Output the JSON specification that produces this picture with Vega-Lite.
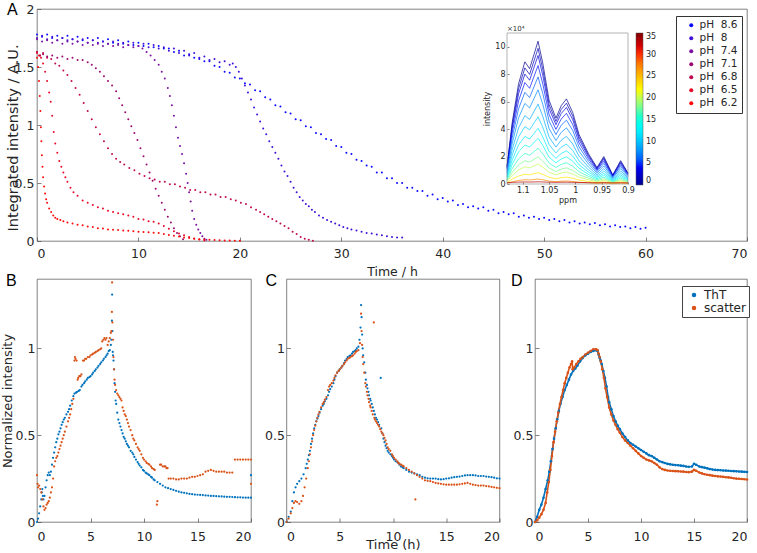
{
"$schema":"https://vega.github.io/schema/vega-lite/v6.json",
"background":"white",
"padding":{"left":0,"top":1,"right":2,"bottom":2},
"config":{
"font":"DejaVu Sans",
"view":{"stroke":"#4d4d4d","strokeWidth":0.7},
"axis":{"grid":false,"domain":false,"tickColor":"#4d4d4d","tickSize":-4,"tickWidth":0.7,"labelColor":"#262626","titleColor":"#262626","titleFontWeight":"normal","labelFont":"DejaVu Sans","titleFont":"DejaVu Sans","format":"~f"},
"legend":{"labelFont":"DejaVu Sans","labelColor":"#262626"},
"title":{"font":"Liberation Sans","fontSize":16,"fontWeight":"normal","anchor":"start","frame":"group","offset":0,"baseline":"alphabetic","color":"#000"}
},
"datasets":{
"a":[
{"p":1,"t":0,"v":1.78},{"p":1,"t":0.5,"v":1.76},{"p":1,"t":1,"v":1.78},{"p":1,"t":1.5,"v":1.75},{"p":1,"t":2,"v":1.77},{"p":1,"t":2.5,"v":1.75},{"p":1,"t":3,"v":1.77},{"p":1,"t":3.5,"v":1.74},{"p":1,"t":4,"v":1.76},{"p":1,"t":4.5,"v":1.73},{"p":1,"t":5,"v":1.75},{"p":1,"t":5.5,"v":1.73},{"p":1,"t":6,"v":1.75},{"p":1,"t":6.5,"v":1.72},{"p":1,"t":7,"v":1.74},{"p":1,"t":7.5,"v":1.71},{"p":1,"t":8,"v":1.73},{"p":1,"t":8.5,"v":1.7},{"p":1,"t":9,"v":1.72},{"p":1,"t":9.5,"v":1.69},{"p":1,"t":10,"v":1.71},{"p":1,"t":10.5,"v":1.68},{"p":1,"t":11,"v":1.7},{"p":1,"t":11.5,"v":1.67},{"p":1,"t":12,"v":1.68},{"p":1,"t":12.5,"v":1.66},{"p":1,"t":13,"v":1.66},{"p":1,"t":13.5,"v":1.63},{"p":1,"t":14,"v":1.64},{"p":1,"t":14.5,"v":1.6},{"p":1,"t":15,"v":1.61},{"p":1,"t":15.5,"v":1.58},{"p":1,"t":16,"v":1.57},{"p":1,"t":16.5,"v":1.55},{"p":1,"t":17,"v":1.55},{"p":1,"t":17.5,"v":1.51},{"p":1,"t":18,"v":1.5},{"p":1,"t":18.5,"v":1.46},{"p":1,"t":19,"v":1.45},{"p":1,"t":19.5,"v":1.41},{"p":1,"t":20,"v":1.4},{"p":1,"t":20.5,"v":1.36},{"p":1,"t":21,"v":1.35},{"p":1,"t":21.5,"v":1.3},{"p":1,"t":22,"v":1.29},{"p":1,"t":22.5,"v":1.24},{"p":1,"t":23,"v":1.22},{"p":1,"t":23.5,"v":1.17},{"p":1,"t":24,"v":1.16},{"p":1,"t":24.5,"v":1.11},{"p":1,"t":25,"v":1.1},{"p":1,"t":25.5,"v":1.05},{"p":1,"t":26,"v":1.04},{"p":1,"t":26.5,"v":0.99},{"p":1,"t":27,"v":0.98},{"p":1,"t":27.5,"v":0.93},{"p":1,"t":28,"v":0.92},{"p":1,"t":28.5,"v":0.88},{"p":1,"t":29,"v":0.87},{"p":1,"t":29.5,"v":0.82},{"p":1,"t":30,"v":0.81},{"p":1,"t":30.5,"v":0.76},{"p":1,"t":31,"v":0.75},{"p":1,"t":31.5,"v":0.7},{"p":1,"t":32,"v":0.69},{"p":1,"t":32.5,"v":0.65},{"p":1,"t":33,"v":0.64},{"p":1,"t":33.5,"v":0.59},{"p":1,"t":34,"v":0.59},{"p":1,"t":34.5,"v":0.54},{"p":1,"t":35,"v":0.54},{"p":1,"t":35.5,"v":0.5},{"p":1,"t":36,"v":0.5},{"p":1,"t":36.5,"v":0.46},{"p":1,"t":37,"v":0.46},{"p":1,"t":37.5,"v":0.43},{"p":1,"t":38,"v":0.43},{"p":1,"t":38.5,"v":0.39},{"p":1,"t":39,"v":0.4},{"p":1,"t":39.5,"v":0.36},{"p":1,"t":40,"v":0.37},{"p":1,"t":40.5,"v":0.34},{"p":1,"t":41,"v":0.35},{"p":1,"t":41.5,"v":0.31},{"p":1,"t":42,"v":0.32},{"p":1,"t":42.5,"v":0.29},{"p":1,"t":43,"v":0.3},{"p":1,"t":43.5,"v":0.28},{"p":1,"t":44,"v":0.29},{"p":1,"t":44.5,"v":0.26},{"p":1,"t":45,"v":0.27},{"p":1,"t":45.5,"v":0.24},{"p":1,"t":46,"v":0.25},{"p":1,"t":46.5,"v":0.23},{"p":1,"t":47,"v":0.24},{"p":1,"t":47.5,"v":0.21},{"p":1,"t":48,"v":0.22},{"p":1,"t":48.5,"v":0.2},{"p":1,"t":49,"v":0.21},{"p":1,"t":49.5,"v":0.19},{"p":1,"t":50,"v":0.2},{"p":1,"t":50.5,"v":0.18},{"p":1,"t":51,"v":0.19},{"p":1,"t":51.5,"v":0.17},{"p":1,"t":52,"v":0.18},{"p":1,"t":52.5,"v":0.16},{"p":1,"t":53,"v":0.17},{"p":1,"t":53.5,"v":0.15},{"p":1,"t":54,"v":0.16},{"p":1,"t":54.5,"v":0.145},{"p":1,"t":55,"v":0.155},{"p":1,"t":55.5,"v":0.135},{"p":1,"t":56,"v":0.145},{"p":1,"t":56.5,"v":0.125},{"p":1,"t":57,"v":0.135},{"p":1,"t":57.5,"v":0.12},{"p":1,"t":58,"v":0.125},{"p":1,"t":58.5,"v":0.11},{"p":1,"t":59,"v":0.12},{"p":1,"t":59.5,"v":0.105},{"p":1,"t":60,"v":0.115},
{"p":2,"t":0,"v":1.75},{"p":2,"t":0.5,"v":1.77},{"p":2,"t":1,"v":1.74},{"p":2,"t":1.5,"v":1.76},{"p":2,"t":2,"v":1.73},{"p":2,"t":2.5,"v":1.75},{"p":2,"t":3,"v":1.73},{"p":2,"t":3.5,"v":1.74},{"p":2,"t":4,"v":1.72},{"p":2,"t":4.5,"v":1.74},{"p":2,"t":5,"v":1.71},{"p":2,"t":5.5,"v":1.73},{"p":2,"t":6,"v":1.71},{"p":2,"t":6.5,"v":1.72},{"p":2,"t":7,"v":1.7},{"p":2,"t":7.5,"v":1.72},{"p":2,"t":8,"v":1.7},{"p":2,"t":8.5,"v":1.71},{"p":2,"t":9,"v":1.69},{"p":2,"t":9.5,"v":1.71},{"p":2,"t":10,"v":1.68},{"p":2,"t":10.5,"v":1.7},{"p":2,"t":11,"v":1.67},{"p":2,"t":11.5,"v":1.69},{"p":2,"t":12,"v":1.66},{"p":2,"t":12.5,"v":1.67},{"p":2,"t":13,"v":1.64},{"p":2,"t":13.5,"v":1.66},{"p":2,"t":14,"v":1.62},{"p":2,"t":14.5,"v":1.64},{"p":2,"t":15,"v":1.6},{"p":2,"t":15.5,"v":1.62},{"p":2,"t":16,"v":1.58},{"p":2,"t":16.5,"v":1.59},{"p":2,"t":17,"v":1.56},{"p":2,"t":17.5,"v":1.57},{"p":2,"t":18,"v":1.54},{"p":2,"t":18.5,"v":1.55},{"p":2,"t":19,"v":1.52},{"p":2,"t":19.3,"v":1.53},{"p":2,"t":19.6,"v":1.5},{"p":2,"t":19.9,"v":1.46},{"p":2,"t":20.2,"v":1.4},{"p":2,"t":20.5,"v":1.34},{"p":2,"t":20.8,"v":1.28},{"p":2,"t":21.1,"v":1.22},{"p":2,"t":21.4,"v":1.15},{"p":2,"t":21.7,"v":1.09},{"p":2,"t":22,"v":1.03},{"p":2,"t":22.3,"v":0.97},{"p":2,"t":22.6,"v":0.92},{"p":2,"t":22.9,"v":0.86},{"p":2,"t":23.2,"v":0.81},{"p":2,"t":23.5,"v":0.76},{"p":2,"t":23.8,"v":0.71},{"p":2,"t":24.1,"v":0.65},{"p":2,"t":24.4,"v":0.6},{"p":2,"t":24.7,"v":0.56},{"p":2,"t":25,"v":0.51},{"p":2,"t":25.3,"v":0.46},{"p":2,"t":25.6,"v":0.42},{"p":2,"t":25.9,"v":0.38},{"p":2,"t":26.2,"v":0.35},{"p":2,"t":26.5,"v":0.32},{"p":2,"t":26.8,"v":0.3},{"p":2,"t":27.1,"v":0.27},{"p":2,"t":27.4,"v":0.25},{"p":2,"t":27.8,"v":0.22},{"p":2,"t":28.2,"v":0.2},{"p":2,"t":28.6,"v":0.18},{"p":2,"t":29,"v":0.165},{"p":2,"t":29.4,"v":0.15},{"p":2,"t":29.8,"v":0.135},{"p":2,"t":30.2,"v":0.12},{"p":2,"t":30.6,"v":0.11},{"p":2,"t":31,"v":0.1},{"p":2,"t":31.5,"v":0.09},{"p":2,"t":32,"v":0.08},{"p":2,"t":32.5,"v":0.07},{"p":2,"t":33,"v":0.065},{"p":2,"t":33.5,"v":0.055},{"p":2,"t":34,"v":0.05},{"p":2,"t":34.5,"v":0.04},{"p":2,"t":35,"v":0.035},{"p":2,"t":35.5,"v":0.03},{"p":2,"t":36,"v":0.03},
{"p":3,"t":0,"v":1.74},{"p":3,"t":0.5,"v":1.72},{"p":3,"t":1,"v":1.73},{"p":3,"t":1.5,"v":1.71},{"p":3,"t":2,"v":1.73},{"p":3,"t":2.5,"v":1.7},{"p":3,"t":3,"v":1.72},{"p":3,"t":3.5,"v":1.7},{"p":3,"t":4,"v":1.72},{"p":3,"t":4.5,"v":1.69},{"p":3,"t":5,"v":1.71},{"p":3,"t":5.5,"v":1.69},{"p":3,"t":6,"v":1.7},{"p":3,"t":6.5,"v":1.68},{"p":3,"t":7,"v":1.7},{"p":3,"t":7.5,"v":1.68},{"p":3,"t":8,"v":1.69},{"p":3,"t":8.5,"v":1.67},{"p":3,"t":9,"v":1.69},{"p":3,"t":9.5,"v":1.67},{"p":3,"t":10,"v":1.68},{"p":3,"t":10.4,"v":1.66},{"p":3,"t":10.8,"v":1.63},{"p":3,"t":11.2,"v":1.6},{"p":3,"t":11.6,"v":1.56},{"p":3,"t":12,"v":1.52},{"p":3,"t":12.3,"v":1.46},{"p":3,"t":12.6,"v":1.4},{"p":3,"t":12.9,"v":1.32},{"p":3,"t":13.1,"v":1.25},{"p":3,"t":13.3,"v":1.17},{"p":3,"t":13.5,"v":1.08},{"p":3,"t":13.7,"v":0.98},{"p":3,"t":13.9,"v":0.89},{"p":3,"t":14.1,"v":0.82},{"p":3,"t":14.3,"v":0.75},{"p":3,"t":14.5,"v":0.67},{"p":3,"t":14.7,"v":0.58},{"p":3,"t":14.85,"v":0.5},{"p":3,"t":15,"v":0.42},{"p":3,"t":15.15,"v":0.34},{"p":3,"t":15.3,"v":0.26},{"p":3,"t":15.5,"v":0.19},{"p":3,"t":15.7,"v":0.14},{"p":3,"t":15.9,"v":0.1},{"p":3,"t":16.1,"v":0.07},{"p":3,"t":16.3,"v":0.04},{"p":3,"t":16.5,"v":0.02},{"p":3,"t":16.7,"v":0.01},
{"p":4,"t":0,"v":1.63},{"p":4,"t":0.3,"v":1.6},{"p":4,"t":0.6,"v":1.61},{"p":4,"t":1,"v":1.59},{"p":4,"t":1.5,"v":1.6},{"p":4,"t":2,"v":1.58},{"p":4,"t":2.5,"v":1.59},{"p":4,"t":3,"v":1.57},{"p":4,"t":3.5,"v":1.58},{"p":4,"t":4,"v":1.56},{"p":4,"t":4.5,"v":1.56},{"p":4,"t":5,"v":1.54},{"p":4,"t":5.4,"v":1.52},{"p":4,"t":5.8,"v":1.49},{"p":4,"t":6.2,"v":1.46},{"p":4,"t":6.6,"v":1.42},{"p":4,"t":7,"v":1.38},{"p":4,"t":7.4,"v":1.34},{"p":4,"t":7.8,"v":1.29},{"p":4,"t":8.1,"v":1.23},{"p":4,"t":8.4,"v":1.17},{"p":4,"t":8.7,"v":1.11},{"p":4,"t":9,"v":1.05},{"p":4,"t":9.3,"v":0.99},{"p":4,"t":9.6,"v":0.93},{"p":4,"t":9.9,"v":0.87},{"p":4,"t":10.2,"v":0.8},{"p":4,"t":10.5,"v":0.73},{"p":4,"t":10.8,"v":0.66},{"p":4,"t":11.1,"v":0.59},{"p":4,"t":11.4,"v":0.52},{"p":4,"t":11.7,"v":0.45},{"p":4,"t":12,"v":0.39},{"p":4,"t":12.3,"v":0.33},{"p":4,"t":12.6,"v":0.27},{"p":4,"t":12.9,"v":0.21},{"p":4,"t":13.2,"v":0.16},{"p":4,"t":13.5,"v":0.11},{"p":4,"t":13.8,"v":0.07},{"p":4,"t":14.1,"v":0.04},{"p":4,"t":14.4,"v":0.015},
{"p":5,"t":0,"v":1.63},{"p":5,"t":0.3,"v":1.6},{"p":5,"t":0.6,"v":1.62},{"p":5,"t":1,"v":1.58},{"p":5,"t":1.4,"v":1.57},{"p":5,"t":1.8,"v":1.53},{"p":5,"t":2.2,"v":1.51},{"p":5,"t":2.6,"v":1.47},{"p":5,"t":3,"v":1.43},{"p":5,"t":3.4,"v":1.38},{"p":5,"t":3.8,"v":1.32},{"p":5,"t":4.2,"v":1.26},{"p":5,"t":4.6,"v":1.19},{"p":5,"t":5,"v":1.12},{"p":5,"t":5.4,"v":1.05},{"p":5,"t":5.8,"v":0.98},{"p":5,"t":6.2,"v":0.92},{"p":5,"t":6.6,"v":0.86},{"p":5,"t":7,"v":0.8},{"p":5,"t":7.4,"v":0.75},{"p":5,"t":7.8,"v":0.71},{"p":5,"t":8.2,"v":0.68},{"p":5,"t":8.6,"v":0.66},{"p":5,"t":9.1,"v":0.63},{"p":5,"t":9.6,"v":0.61},{"p":5,"t":10.1,"v":0.58},{"p":5,"t":10.6,"v":0.56},{"p":5,"t":11.1,"v":0.54},{"p":5,"t":11.6,"v":0.53},{"p":5,"t":12.1,"v":0.51},{"p":5,"t":12.6,"v":0.51},{"p":5,"t":13.1,"v":0.49},{"p":5,"t":13.6,"v":0.49},{"p":5,"t":14.1,"v":0.47},{"p":5,"t":14.6,"v":0.46},{"p":5,"t":15.1,"v":0.44},{"p":5,"t":15.6,"v":0.44},{"p":5,"t":16.1,"v":0.42},{"p":5,"t":16.6,"v":0.42},{"p":5,"t":17.1,"v":0.4},{"p":5,"t":17.6,"v":0.4},{"p":5,"t":18.1,"v":0.38},{"p":5,"t":18.6,"v":0.38},{"p":5,"t":19.1,"v":0.36},{"p":5,"t":19.6,"v":0.35},{"p":5,"t":20.1,"v":0.33},{"p":5,"t":20.6,"v":0.32},{"p":5,"t":21.1,"v":0.29},{"p":5,"t":21.6,"v":0.27},{"p":5,"t":22,"v":0.25},{"p":5,"t":22.4,"v":0.23},{"p":5,"t":22.8,"v":0.21},{"p":5,"t":23.2,"v":0.19},{"p":5,"t":23.6,"v":0.17},{"p":5,"t":24,"v":0.15},{"p":5,"t":24.4,"v":0.13},{"p":5,"t":24.8,"v":0.11},{"p":5,"t":25.2,"v":0.08},{"p":5,"t":25.6,"v":0.06},{"p":5,"t":26,"v":0.035},{"p":5,"t":26.4,"v":0.02},{"p":5,"t":26.8,"v":0.01},{"p":5,"t":27.2,"v":0.003},
{"p":6,"t":0,"v":1.62},{"p":6,"t":0.2,"v":1.6},{"p":6,"t":0.4,"v":1.58},{"p":6,"t":0.6,"v":1.53},{"p":6,"t":0.8,"v":1.46},{"p":6,"t":1,"v":1.38},{"p":6,"t":1.2,"v":1.28},{"p":6,"t":1.35,"v":1.2},{"p":6,"t":1.5,"v":1.08},{"p":6,"t":1.65,"v":0.94},{"p":6,"t":1.8,"v":0.84},{"p":6,"t":2,"v":0.76},{"p":6,"t":2.2,"v":0.69},{"p":6,"t":2.4,"v":0.64},{"p":6,"t":2.6,"v":0.59},{"p":6,"t":2.8,"v":0.55},{"p":6,"t":3,"v":0.51},{"p":6,"t":3.3,"v":0.46},{"p":6,"t":3.6,"v":0.42},{"p":6,"t":4,"v":0.39},{"p":6,"t":4.5,"v":0.35},{"p":6,"t":5,"v":0.33},{"p":6,"t":5.5,"v":0.31},{"p":6,"t":6,"v":0.29},{"p":6,"t":6.5,"v":0.28},{"p":6,"t":7,"v":0.26},{"p":6,"t":7.5,"v":0.25},{"p":6,"t":8,"v":0.24},{"p":6,"t":8.5,"v":0.23},{"p":6,"t":9,"v":0.22},{"p":6,"t":9.5,"v":0.21},{"p":6,"t":10,"v":0.19},{"p":6,"t":10.5,"v":0.185},{"p":6,"t":11,"v":0.17},{"p":6,"t":11.5,"v":0.165},{"p":6,"t":12,"v":0.15},{"p":6,"t":12.5,"v":0.13},{"p":6,"t":13,"v":0.105},{"p":6,"t":13.5,"v":0.085},{"p":6,"t":14,"v":0.065},{"p":6,"t":14.5,"v":0.05},{"p":6,"t":15,"v":0.035},{"p":6,"t":15.5,"v":0.022},{"p":6,"t":16,"v":0.012},{"p":6,"t":16.5,"v":0.005},
{"p":7,"t":0,"v":1.58},{"p":7,"t":0.1,"v":1.5},{"p":7,"t":0.2,"v":1.38},{"p":7,"t":0.27,"v":1.25},{"p":7,"t":0.33,"v":1.12},{"p":7,"t":0.38,"v":0.98},{"p":7,"t":0.43,"v":0.86},{"p":7,"t":0.48,"v":0.74},{"p":7,"t":0.54,"v":0.64},{"p":7,"t":0.6,"v":0.55},{"p":7,"t":0.7,"v":0.47},{"p":7,"t":0.8,"v":0.41},{"p":7,"t":0.9,"v":0.36},{"p":7,"t":1,"v":0.33},{"p":7,"t":1.2,"v":0.28},{"p":7,"t":1.4,"v":0.25},{"p":7,"t":1.6,"v":0.22},{"p":7,"t":1.8,"v":0.2},{"p":7,"t":2,"v":0.19},{"p":7,"t":2.3,"v":0.18},{"p":7,"t":2.6,"v":0.17},{"p":7,"t":3,"v":0.16},{"p":7,"t":3.5,"v":0.15},{"p":7,"t":4,"v":0.14},{"p":7,"t":4.5,"v":0.135},{"p":7,"t":5,"v":0.125},{"p":7,"t":5.5,"v":0.12},{"p":7,"t":6,"v":0.11},{"p":7,"t":6.5,"v":0.108},{"p":7,"t":7,"v":0.1},{"p":7,"t":7.5,"v":0.098},{"p":7,"t":8,"v":0.094},{"p":7,"t":8.5,"v":0.09},{"p":7,"t":9,"v":0.088},{"p":7,"t":9.5,"v":0.083},{"p":7,"t":10,"v":0.08},{"p":7,"t":10.5,"v":0.077},{"p":7,"t":11,"v":0.075},{"p":7,"t":11.5,"v":0.072},{"p":7,"t":12,"v":0.068},{"p":7,"t":12.5,"v":0.06},{"p":7,"t":13,"v":0.052},{"p":7,"t":13.5,"v":0.045},{"p":7,"t":14,"v":0.038},{"p":7,"t":14.5,"v":0.03},{"p":7,"t":15,"v":0.025},{"p":7,"t":15.5,"v":0.02},{"p":7,"t":16,"v":0.015},{"p":7,"t":16.5,"v":0.012},{"p":7,"t":17,"v":0.01},{"p":7,"t":17.5,"v":0.008},{"p":7,"t":18,"v":0.006},{"p":7,"t":18.5,"v":0.005},{"p":7,"t":19,"v":0.004},{"p":7,"t":19.5,"v":0.003},{"p":7,"t":20,"v":0.002}
],
"ins":[
{"c":0,"x":1.13,"y":1.3},{"c":0,"x":1.12,"y":4.5},{"c":0,"x":1.108,"y":7.3},{"c":0,"x":1.096,"y":8.9},{"c":0,"x":1.087,"y":8.4},{"c":0,"x":1.071,"y":10.4},{"c":0,"x":1.062,"y":8.8},{"c":0,"x":1.05,"y":6.1},{"c":0,"x":1.037,"y":4.8},{"c":0,"x":1.027,"y":5.7},{"c":0,"x":1.017,"y":6.2},{"c":0,"x":1.005,"y":5.2},{"c":0,"x":0.993,"y":3.6},{"c":0,"x":0.975,"y":2.2},{"c":0,"x":0.959,"y":1.2},{"c":0,"x":0.946,"y":2},{"c":0,"x":0.929,"y":0.66},{"c":0,"x":0.914,"y":1.7},{"c":0,"x":0.9,"y":0.8},
{"c":1.5,"x":1.13,"y":1.24},{"c":1.5,"x":1.12,"y":4.28},{"c":1.5,"x":1.108,"y":6.94},{"c":1.5,"x":1.096,"y":8.46},{"c":1.5,"x":1.087,"y":7.98},{"c":1.5,"x":1.071,"y":9.88},{"c":1.5,"x":1.062,"y":8.36},{"c":1.5,"x":1.05,"y":5.8},{"c":1.5,"x":1.037,"y":4.56},{"c":1.5,"x":1.027,"y":5.42},{"c":1.5,"x":1.017,"y":5.89},{"c":1.5,"x":1.005,"y":4.94},{"c":1.5,"x":0.993,"y":3.42},{"c":1.5,"x":0.975,"y":2.09},{"c":1.5,"x":0.959,"y":1.14},{"c":1.5,"x":0.946,"y":1.9},{"c":1.5,"x":0.929,"y":0.63},{"c":1.5,"x":0.914,"y":1.62},{"c":1.5,"x":0.9,"y":0.76},
{"c":3,"x":1.13,"y":1.17},{"c":3,"x":1.12,"y":4.05},{"c":3,"x":1.108,"y":6.57},{"c":3,"x":1.096,"y":8.01},{"c":3,"x":1.087,"y":7.56},{"c":3,"x":1.071,"y":9.36},{"c":3,"x":1.062,"y":7.92},{"c":3,"x":1.05,"y":5.49},{"c":3,"x":1.037,"y":4.32},{"c":3,"x":1.027,"y":5.13},{"c":3,"x":1.017,"y":5.58},{"c":3,"x":1.005,"y":4.68},{"c":3,"x":0.993,"y":3.24},{"c":3,"x":0.975,"y":1.98},{"c":3,"x":0.959,"y":1.08},{"c":3,"x":0.946,"y":1.8},{"c":3,"x":0.929,"y":0.59},{"c":3,"x":0.914,"y":1.53},{"c":3,"x":0.9,"y":0.72},
{"c":4.5,"x":1.13,"y":1.08},{"c":4.5,"x":1.12,"y":3.74},{"c":4.5,"x":1.108,"y":6.06},{"c":4.5,"x":1.096,"y":7.39},{"c":4.5,"x":1.087,"y":6.97},{"c":4.5,"x":1.071,"y":8.63},{"c":4.5,"x":1.062,"y":7.3},{"c":4.5,"x":1.05,"y":5.06},{"c":4.5,"x":1.037,"y":3.98},{"c":4.5,"x":1.027,"y":4.73},{"c":4.5,"x":1.017,"y":5.15},{"c":4.5,"x":1.005,"y":4.32},{"c":4.5,"x":0.993,"y":2.99},{"c":4.5,"x":0.975,"y":1.83},{"c":4.5,"x":0.959,"y":1},{"c":4.5,"x":0.946,"y":1.66},{"c":4.5,"x":0.929,"y":0.55},{"c":4.5,"x":0.914,"y":1.41},{"c":4.5,"x":0.9,"y":0.66},
{"c":6,"x":1.13,"y":0.98},{"c":6,"x":1.12,"y":3.38},{"c":6,"x":1.108,"y":5.48},{"c":6,"x":1.096,"y":6.68},{"c":6,"x":1.087,"y":6.3},{"c":6,"x":1.071,"y":7.8},{"c":6,"x":1.062,"y":6.6},{"c":6,"x":1.05,"y":4.58},{"c":6,"x":1.037,"y":3.6},{"c":6,"x":1.027,"y":4.28},{"c":6,"x":1.017,"y":4.65},{"c":6,"x":1.005,"y":3.9},{"c":6,"x":0.993,"y":2.7},{"c":6,"x":0.975,"y":1.65},{"c":6,"x":0.959,"y":0.9},{"c":6,"x":0.946,"y":1.5},{"c":6,"x":0.929,"y":0.5},{"c":6,"x":0.914,"y":1.28},{"c":6,"x":0.9,"y":0.6},
{"c":7.5,"x":1.13,"y":0.86},{"c":7.5,"x":1.12,"y":2.97},{"c":7.5,"x":1.108,"y":4.82},{"c":7.5,"x":1.096,"y":5.87},{"c":7.5,"x":1.087,"y":5.54},{"c":7.5,"x":1.071,"y":6.86},{"c":7.5,"x":1.062,"y":5.81},{"c":7.5,"x":1.05,"y":4.03},{"c":7.5,"x":1.037,"y":3.17},{"c":7.5,"x":1.027,"y":3.76},{"c":7.5,"x":1.017,"y":4.09},{"c":7.5,"x":1.005,"y":3.43},{"c":7.5,"x":0.993,"y":2.38},{"c":7.5,"x":0.975,"y":1.45},{"c":7.5,"x":0.959,"y":0.79},{"c":7.5,"x":0.946,"y":1.32},{"c":7.5,"x":0.929,"y":0.44},{"c":7.5,"x":0.914,"y":1.12},{"c":7.5,"x":0.9,"y":0.53},
{"c":9,"x":1.13,"y":0.73},{"c":9,"x":1.12,"y":2.52},{"c":9,"x":1.108,"y":4.09},{"c":9,"x":1.096,"y":4.98},{"c":9,"x":1.087,"y":4.7},{"c":9,"x":1.071,"y":5.82},{"c":9,"x":1.062,"y":4.93},{"c":9,"x":1.05,"y":3.42},{"c":9,"x":1.037,"y":2.69},{"c":9,"x":1.027,"y":3.19},{"c":9,"x":1.017,"y":3.47},{"c":9,"x":1.005,"y":2.91},{"c":9,"x":0.993,"y":2.02},{"c":9,"x":0.975,"y":1.23},{"c":9,"x":0.959,"y":0.67},{"c":9,"x":0.946,"y":1.12},{"c":9,"x":0.929,"y":0.37},{"c":9,"x":0.914,"y":0.95},{"c":9,"x":0.9,"y":0.45},
{"c":10.5,"x":1.13,"y":0.61},{"c":10.5,"x":1.12,"y":2.12},{"c":10.5,"x":1.108,"y":3.43},{"c":10.5,"x":1.096,"y":4.18},{"c":10.5,"x":1.087,"y":3.95},{"c":10.5,"x":1.071,"y":4.89},{"c":10.5,"x":1.062,"y":4.14},{"c":10.5,"x":1.05,"y":2.87},{"c":10.5,"x":1.037,"y":2.26},{"c":10.5,"x":1.027,"y":2.68},{"c":10.5,"x":1.017,"y":2.91},{"c":10.5,"x":1.005,"y":2.44},{"c":10.5,"x":0.993,"y":1.69},{"c":10.5,"x":0.975,"y":1.03},{"c":10.5,"x":0.959,"y":0.56},{"c":10.5,"x":0.946,"y":0.94},{"c":10.5,"x":0.929,"y":0.31},{"c":10.5,"x":0.914,"y":0.8},{"c":10.5,"x":0.9,"y":0.38},
{"c":12,"x":1.13,"y":0.51},{"c":12,"x":1.12,"y":1.76},{"c":12,"x":1.108,"y":2.85},{"c":12,"x":1.096,"y":3.47},{"c":12,"x":1.087,"y":3.28},{"c":12,"x":1.071,"y":4.06},{"c":12,"x":1.062,"y":3.43},{"c":12,"x":1.05,"y":2.38},{"c":12,"x":1.037,"y":1.87},{"c":12,"x":1.027,"y":2.22},{"c":12,"x":1.017,"y":2.42},{"c":12,"x":1.005,"y":2.03},{"c":12,"x":0.993,"y":1.4},{"c":12,"x":0.975,"y":0.86},{"c":12,"x":0.959,"y":0.47},{"c":12,"x":0.946,"y":0.78},{"c":12,"x":0.929,"y":0.26},{"c":12,"x":0.914,"y":0.66},{"c":12,"x":0.9,"y":0.31},
{"c":14,"x":1.13,"y":0.42},{"c":14,"x":1.12,"y":1.44},{"c":14,"x":1.108,"y":2.34},{"c":14,"x":1.096,"y":2.85},{"c":14,"x":1.087,"y":2.69},{"c":14,"x":1.071,"y":3.33},{"c":14,"x":1.062,"y":2.82},{"c":14,"x":1.05,"y":1.95},{"c":14,"x":1.037,"y":1.54},{"c":14,"x":1.027,"y":1.82},{"c":14,"x":1.017,"y":1.98},{"c":14,"x":1.005,"y":1.66},{"c":14,"x":0.993,"y":1.15},{"c":14,"x":0.975,"y":0.7},{"c":14,"x":0.959,"y":0.38},{"c":14,"x":0.946,"y":0.64},{"c":14,"x":0.929,"y":0.21},{"c":14,"x":0.914,"y":0.54},{"c":14,"x":0.9,"y":0.26},
{"c":16,"x":1.13,"y":0.33},{"c":16,"x":1.12,"y":1.13},{"c":16,"x":1.108,"y":1.83},{"c":16,"x":1.096,"y":2.23},{"c":16,"x":1.087,"y":2.1},{"c":16,"x":1.071,"y":2.6},{"c":16,"x":1.062,"y":2.2},{"c":16,"x":1.05,"y":1.53},{"c":16,"x":1.037,"y":1.2},{"c":16,"x":1.027,"y":1.43},{"c":16,"x":1.017,"y":1.55},{"c":16,"x":1.005,"y":1.3},{"c":16,"x":0.993,"y":0.9},{"c":16,"x":0.975,"y":0.55},{"c":16,"x":0.959,"y":0.3},{"c":16,"x":0.946,"y":0.5},{"c":16,"x":0.929,"y":0.17},{"c":16,"x":0.914,"y":0.43},{"c":16,"x":0.9,"y":0.2},
{"c":18,"x":1.13,"y":0.25},{"c":18,"x":1.12,"y":0.86},{"c":18,"x":1.108,"y":1.39},{"c":18,"x":1.096,"y":1.69},{"c":18,"x":1.087,"y":1.6},{"c":18,"x":1.071,"y":1.98},{"c":18,"x":1.062,"y":1.67},{"c":18,"x":1.05,"y":1.16},{"c":18,"x":1.037,"y":0.91},{"c":18,"x":1.027,"y":1.08},{"c":18,"x":1.017,"y":1.18},{"c":18,"x":1.005,"y":0.99},{"c":18,"x":0.993,"y":0.68},{"c":18,"x":0.975,"y":0.42},{"c":18,"x":0.959,"y":0.23},{"c":18,"x":0.946,"y":0.38},{"c":18,"x":0.929,"y":0.13},{"c":18,"x":0.914,"y":0.32},{"c":18,"x":0.9,"y":0.15},
{"c":20,"x":1.13,"y":0.18},{"c":20,"x":1.12,"y":0.63},{"c":20,"x":1.108,"y":1.02},{"c":20,"x":1.096,"y":1.25},{"c":20,"x":1.087,"y":1.18},{"c":20,"x":1.071,"y":1.46},{"c":20,"x":1.062,"y":1.23},{"c":20,"x":1.05,"y":0.85},{"c":20,"x":1.037,"y":0.67},{"c":20,"x":1.027,"y":0.8},{"c":20,"x":1.017,"y":0.87},{"c":20,"x":1.005,"y":0.73},{"c":20,"x":0.993,"y":0.5},{"c":20,"x":0.975,"y":0.31},{"c":20,"x":0.959,"y":0.17},{"c":20,"x":0.946,"y":0.28},{"c":20,"x":0.929,"y":0.09},{"c":20,"x":0.914,"y":0.24},{"c":20,"x":0.9,"y":0.11},
{"c":23,"x":1.13,"y":0.1},{"c":23,"x":1.12,"y":0.36},{"c":23,"x":1.108,"y":0.58},{"c":23,"x":1.096,"y":0.71},{"c":23,"x":1.087,"y":0.67},{"c":23,"x":1.071,"y":0.83},{"c":23,"x":1.062,"y":0.7},{"c":23,"x":1.05,"y":0.49},{"c":23,"x":1.037,"y":0.38},{"c":23,"x":1.027,"y":0.46},{"c":23,"x":1.017,"y":0.5},{"c":23,"x":1.005,"y":0.42},{"c":23,"x":0.993,"y":0.29},{"c":23,"x":0.975,"y":0.18},{"c":23,"x":0.959,"y":0.1},{"c":23,"x":0.946,"y":0.16},{"c":23,"x":0.929,"y":0.05},{"c":23,"x":0.914,"y":0.14},{"c":23,"x":0.9,"y":0.06},
{"c":27,"x":1.13,"y":0.05},{"c":27,"x":1.12,"y":0.16},{"c":27,"x":1.108,"y":0.26},{"c":27,"x":1.096,"y":0.31},{"c":27,"x":1.087,"y":0.29},{"c":27,"x":1.071,"y":0.36},{"c":27,"x":1.062,"y":0.31},{"c":27,"x":1.05,"y":0.21},{"c":27,"x":1.037,"y":0.17},{"c":27,"x":1.027,"y":0.2},{"c":27,"x":1.017,"y":0.22},{"c":27,"x":1.005,"y":0.18},{"c":27,"x":0.993,"y":0.13},{"c":27,"x":0.975,"y":0.08},{"c":27,"x":0.959,"y":0.04},{"c":27,"x":0.946,"y":0.07},{"c":27,"x":0.929,"y":0.02},{"c":27,"x":0.914,"y":0.06},{"c":27,"x":0.9,"y":0.03},
{"c":33,"x":1.13,"y":0.1},{"c":33,"x":1.12,"y":0.12},{"c":33,"x":1.108,"y":0.14},{"c":33,"x":1.096,"y":0.15},{"c":33,"x":1.087,"y":0.14},{"c":33,"x":1.071,"y":0.16},{"c":33,"x":1.062,"y":0.15},{"c":33,"x":1.05,"y":0.13},{"c":33,"x":1.037,"y":0.12},{"c":33,"x":1.027,"y":0.13},{"c":33,"x":1.017,"y":0.13},{"c":33,"x":1.005,"y":0.12},{"c":33,"x":0.993,"y":0.11},{"c":33,"x":0.975,"y":0.1},{"c":33,"x":0.959,"y":0.09},{"c":33,"x":0.946,"y":0.1},{"c":33,"x":0.929,"y":0.09},{"c":33,"x":0.914,"y":0.09},{"c":33,"x":0.9,"y":0.09}
],
"b":[
{"s":0,"t":0,"v":0},{"s":0,"t":0.1,"v":0.02},{"s":0,"t":0.2,"v":0.05},{"s":0,"t":0.3,"v":0.09},{"s":0,"t":0.4,"v":0.13},{"s":0,"t":0.45,"v":0.17},{"s":0,"t":0.5,"v":0.19},{"s":0,"t":0.55,"v":0.15},{"s":0,"t":0.6,"v":0.13},{"s":0,"t":0.7,"v":0.15},{"s":0,"t":0.8,"v":0.2},{"s":0,"t":0.9,"v":0.24},{"s":0,"t":1,"v":0.27},{"s":0,"t":1.1,"v":0.285},{"s":0,"t":1.2,"v":0.27},{"s":0,"t":1.3,"v":0.29},{"s":0,"t":1.4,"v":0.33},{"s":0,"t":1.5,"v":0.37},{"s":0,"t":1.6,"v":0.4},{"s":0,"t":1.7,"v":0.43},{"s":0,"t":1.8,"v":0.46},{"s":0,"t":1.9,"v":0.48},{"s":0,"t":2,"v":0.505},{"s":0,"t":2.1,"v":0.52},{"s":0,"t":2.2,"v":0.54},{"s":0,"t":2.3,"v":0.56},{"s":0,"t":2.4,"v":0.575},{"s":0,"t":2.5,"v":0.59},{"s":0,"t":2.6,"v":0.6},{"s":0,"t":2.75,"v":0.62},{"s":0,"t":2.9,"v":0.635},{"s":0,"t":3,"v":0.65},{"s":0,"t":3.1,"v":0.67},{"s":0,"t":3.25,"v":0.7},{"s":0,"t":3.4,"v":0.725},{"s":0,"t":3.5,"v":0.74},{"s":0,"t":3.65,"v":0.745},{"s":0,"t":3.75,"v":0.75},{"s":0,"t":3.9,"v":0.755},{"s":0,"t":4,"v":0.76},{"s":0,"t":4.15,"v":0.78},{"s":0,"t":4.25,"v":0.79},{"s":0,"t":4.4,"v":0.8},{"s":0,"t":4.5,"v":0.81},{"s":0,"t":4.65,"v":0.82},{"s":0,"t":4.75,"v":0.83},{"s":0,"t":4.9,"v":0.835},{"s":0,"t":5,"v":0.84},{"s":0,"t":5.15,"v":0.85},{"s":0,"t":5.25,"v":0.86},{"s":0,"t":5.4,"v":0.87},{"s":0,"t":5.5,"v":0.88},{"s":0,"t":5.65,"v":0.89},{"s":0,"t":5.75,"v":0.9},{"s":0,"t":5.9,"v":0.91},{"s":0,"t":6,"v":0.92},{"s":0,"t":6.15,"v":0.93},{"s":0,"t":6.25,"v":0.94},{"s":0,"t":6.4,"v":0.95},{"s":0,"t":6.5,"v":0.96},{"s":0,"t":6.6,"v":0.97},{"s":0,"t":6.7,"v":0.985},{"s":0,"t":6.8,"v":0.99},{"s":0,"t":6.9,"v":1.02},{"s":0,"t":6.95,"v":1.05},{"s":0,"t":7,"v":1.16},{"s":0,"t":7.02,"v":1.31},{"s":0,"t":7.05,"v":1.1},{"s":0,"t":7.08,"v":0.98},{"s":0,"t":7.1,"v":0.96},{"s":0,"t":7.15,"v":0.93},{"s":0,"t":7.2,"v":0.88},{"s":0,"t":7.25,"v":0.8},{"s":0,"t":7.3,"v":0.75},{"s":0,"t":7.35,"v":0.7},{"s":0,"t":7.4,"v":0.68},{"s":0,"t":7.5,"v":0.63},{"s":0,"t":7.6,"v":0.59},{"s":0,"t":7.7,"v":0.57},{"s":0,"t":7.8,"v":0.55},{"s":0,"t":7.9,"v":0.53},{"s":0,"t":8,"v":0.51},{"s":0,"t":8.1,"v":0.49},{"s":0,"t":8.2,"v":0.48},{"s":0,"t":8.3,"v":0.465},{"s":0,"t":8.4,"v":0.45},{"s":0,"t":8.5,"v":0.44},{"s":0,"t":8.6,"v":0.43},{"s":0,"t":8.75,"v":0.41},{"s":0,"t":8.9,"v":0.4},{"s":0,"t":9,"v":0.39},{"s":0,"t":9.1,"v":0.375},{"s":0,"t":9.25,"v":0.36},{"s":0,"t":9.4,"v":0.345},{"s":0,"t":9.5,"v":0.335},{"s":0,"t":9.6,"v":0.325},{"s":0,"t":9.75,"v":0.315},{"s":0,"t":9.9,"v":0.3},{"s":0,"t":10,"v":0.295},{"s":0,"t":10.15,"v":0.285},{"s":0,"t":10.25,"v":0.28},{"s":0,"t":10.4,"v":0.275},{"s":0,"t":10.5,"v":0.27},{"s":0,"t":10.65,"v":0.26},{"s":0,"t":10.75,"v":0.255},{"s":0,"t":10.9,"v":0.245},{"s":0,"t":11,"v":0.24},{"s":0,"t":11.25,"v":0.23},{"s":0,"t":11.5,"v":0.22},{"s":0,"t":11.75,"v":0.21},{"s":0,"t":12,"v":0.2},{"s":0,"t":12.25,"v":0.195},{"s":0,"t":12.5,"v":0.19},{"s":0,"t":12.75,"v":0.185},{"s":0,"t":13,"v":0.18},{"s":0,"t":13.25,"v":0.175},{"s":0,"t":13.5,"v":0.17},{"s":0,"t":13.75,"v":0.168},{"s":0,"t":14,"v":0.165},{"s":0,"t":14.25,"v":0.162},{"s":0,"t":14.5,"v":0.16},{"s":0,"t":14.75,"v":0.158},{"s":0,"t":15,"v":0.157},{"s":0,"t":15.25,"v":0.156},{"s":0,"t":15.5,"v":0.155},{"s":0,"t":15.75,"v":0.153},{"s":0,"t":16,"v":0.152},{"s":0,"t":16.25,"v":0.15},{"s":0,"t":16.5,"v":0.15},{"s":0,"t":16.75,"v":0.149},{"s":0,"t":17,"v":0.148},{"s":0,"t":17.25,"v":0.147},{"s":0,"t":17.5,"v":0.146},{"s":0,"t":17.75,"v":0.145},{"s":0,"t":18,"v":0.145},{"s":0,"t":18.25,"v":0.144},{"s":0,"t":18.5,"v":0.143},{"s":0,"t":18.75,"v":0.142},{"s":0,"t":19,"v":0.142},{"s":0,"t":19.25,"v":0.141},{"s":0,"t":19.5,"v":0.14},{"s":0,"t":19.75,"v":0.14},{"s":0,"t":20,"v":0.14},{"s":0,"t":20,"v":0.27},
{"s":1,"t":0,"v":0.27},{"s":1,"t":0.05,"v":0.22},{"s":1,"t":0.1,"v":0.2},{"s":1,"t":0.2,"v":0.21},{"s":1,"t":0.3,"v":0.19},{"s":1,"t":0.4,"v":0.17},{"s":1,"t":0.5,"v":0.13},{"s":1,"t":0.6,"v":0.09},{"s":1,"t":0.7,"v":0.07},{"s":1,"t":0.8,"v":0.08},{"s":1,"t":0.9,"v":0.1},{"s":1,"t":1,"v":0.11},{"s":1,"t":1.1,"v":0.12},{"s":1,"t":1.2,"v":0.14},{"s":1,"t":1.3,"v":0.17},{"s":1,"t":1.4,"v":0.2},{"s":1,"t":1.5,"v":0.25},{"s":1,"t":1.6,"v":0.32},{"s":1,"t":1.7,"v":0.35},{"s":1,"t":1.8,"v":0.37},{"s":1,"t":1.9,"v":0.38},{"s":1,"t":2,"v":0.4},{"s":1,"t":2.1,"v":0.42},{"s":1,"t":2.2,"v":0.44},{"s":1,"t":2.3,"v":0.46},{"s":1,"t":2.4,"v":0.48},{"s":1,"t":2.5,"v":0.5},{"s":1,"t":2.6,"v":0.52},{"s":1,"t":2.75,"v":0.55},{"s":1,"t":2.9,"v":0.58},{"s":1,"t":3,"v":0.6},{"s":1,"t":3.1,"v":0.62},{"s":1,"t":3.2,"v":0.65},{"s":1,"t":3.3,"v":0.68},{"s":1,"t":3.4,"v":0.71},{"s":1,"t":3.5,"v":0.93},{"s":1,"t":3.55,"v":0.95},{"s":1,"t":3.6,"v":0.94},{"s":1,"t":3.7,"v":0.93},{"s":1,"t":3.8,"v":0.82},{"s":1,"t":3.85,"v":0.83},{"s":1,"t":3.95,"v":0.84},{"s":1,"t":4.05,"v":0.84},{"s":1,"t":4.15,"v":0.85},{"s":1,"t":4.3,"v":0.93},{"s":1,"t":4.4,"v":0.93},{"s":1,"t":4.5,"v":0.94},{"s":1,"t":4.6,"v":0.94},{"s":1,"t":4.75,"v":0.95},{"s":1,"t":4.9,"v":0.95},{"s":1,"t":5,"v":0.96},{"s":1,"t":5.15,"v":0.965},{"s":1,"t":5.25,"v":0.97},{"s":1,"t":5.4,"v":0.975},{"s":1,"t":5.5,"v":0.98},{"s":1,"t":5.65,"v":0.985},{"s":1,"t":5.75,"v":0.99},{"s":1,"t":5.9,"v":0.995},{"s":1,"t":6,"v":1},{"s":1,"t":6.1,"v":1.04},{"s":1,"t":6.2,"v":1.05},{"s":1,"t":6.3,"v":1.06},{"s":1,"t":6.4,"v":1.05},{"s":1,"t":6.5,"v":1.06},{"s":1,"t":6.6,"v":1.02},{"s":1,"t":6.7,"v":1.04},{"s":1,"t":6.8,"v":1.06},{"s":1,"t":6.9,"v":1.09},{"s":1,"t":6.95,"v":1.1},{"s":1,"t":7,"v":1.21},{"s":1,"t":7.02,"v":1.38},{"s":1,"t":7.05,"v":1.15},{"s":1,"t":7.1,"v":1.05},{"s":1,"t":7.15,"v":0.95},{"s":1,"t":7.2,"v":0.88},{"s":1,"t":7.25,"v":0.82},{"s":1,"t":7.3,"v":0.79},{"s":1,"t":7.4,"v":0.76},{"s":1,"t":7.5,"v":0.74},{"s":1,"t":7.6,"v":0.73},{"s":1,"t":7.7,"v":0.72},{"s":1,"t":7.8,"v":0.71},{"s":1,"t":7.9,"v":0.7},{"s":1,"t":8,"v":0.66},{"s":1,"t":8.1,"v":0.64},{"s":1,"t":8.2,"v":0.62},{"s":1,"t":8.3,"v":0.61},{"s":1,"t":8.4,"v":0.59},{"s":1,"t":8.5,"v":0.57},{"s":1,"t":8.6,"v":0.55},{"s":1,"t":8.75,"v":0.53},{"s":1,"t":8.9,"v":0.5},{"s":1,"t":9,"v":0.48},{"s":1,"t":9.1,"v":0.47},{"s":1,"t":9.25,"v":0.45},{"s":1,"t":9.4,"v":0.43},{"s":1,"t":9.5,"v":0.42},{"s":1,"t":9.6,"v":0.41},{"s":1,"t":9.75,"v":0.39},{"s":1,"t":9.9,"v":0.37},{"s":1,"t":10,"v":0.36},{"s":1,"t":10.15,"v":0.35},{"s":1,"t":10.25,"v":0.34},{"s":1,"t":10.4,"v":0.335},{"s":1,"t":10.5,"v":0.33},{"s":1,"t":10.65,"v":0.32},{"s":1,"t":10.75,"v":0.31},{"s":1,"t":10.9,"v":0.305},{"s":1,"t":11,"v":0.3},{"s":1,"t":11.2,"v":0.1},{"s":1,"t":11.25,"v":0.12},{"s":1,"t":11.5,"v":0.33},{"s":1,"t":11.6,"v":0.33},{"s":1,"t":11.75,"v":0.32},{"s":1,"t":11.9,"v":0.32},{"s":1,"t":12,"v":0.32},{"s":1,"t":12.1,"v":0.31},{"s":1,"t":12.2,"v":0.31},{"s":1,"t":12.3,"v":0.25},{"s":1,"t":12.5,"v":0.25},{"s":1,"t":12.75,"v":0.25},{"s":1,"t":13,"v":0.245},{"s":1,"t":13.25,"v":0.245},{"s":1,"t":13.5,"v":0.25},{"s":1,"t":13.75,"v":0.25},{"s":1,"t":14,"v":0.25},{"s":1,"t":14.25,"v":0.255},{"s":1,"t":14.5,"v":0.26},{"s":1,"t":14.75,"v":0.26},{"s":1,"t":15,"v":0.265},{"s":1,"t":15.25,"v":0.27},{"s":1,"t":15.5,"v":0.275},{"s":1,"t":15.75,"v":0.29},{"s":1,"t":16,"v":0.295},{"s":1,"t":16.25,"v":0.3},{"s":1,"t":16.5,"v":0.295},{"s":1,"t":16.75,"v":0.29},{"s":1,"t":17,"v":0.29},{"s":1,"t":17.25,"v":0.29},{"s":1,"t":17.5,"v":0.29},{"s":1,"t":17.75,"v":0.285},{"s":1,"t":18,"v":0.285},{"s":1,"t":18.25,"v":0.285},{"s":1,"t":18.5,"v":0.36},{"s":1,"t":18.75,"v":0.36},{"s":1,"t":19,"v":0.36},{"s":1,"t":19.25,"v":0.36},{"s":1,"t":19.5,"v":0.36},{"s":1,"t":19.75,"v":0.36},{"s":1,"t":20,"v":0.36},{"s":1,"t":20,"v":0.22}
],
"c":[
{"s":0,"t":0,"v":0},{"s":0,"t":0.2,"v":0.03},{"s":0,"t":0.4,"v":0.06},{"s":0,"t":0.55,"v":0.12},{"s":0,"t":0.7,"v":0.17},{"s":0,"t":0.85,"v":0.2},{"s":0,"t":1,"v":0.22},{"s":0,"t":1.2,"v":0.235},{"s":0,"t":1.4,"v":0.25},{"s":0,"t":1.6,"v":0.275},{"s":0,"t":1.8,"v":0.31},{"s":0,"t":1.9,"v":0.335},{"s":0,"t":2,"v":0.36},{"s":0,"t":2.1,"v":0.385},{"s":0,"t":2.2,"v":0.41},{"s":0,"t":2.3,"v":0.45},{"s":0,"t":2.4,"v":0.48},{"s":0,"t":2.5,"v":0.51},{"s":0,"t":2.6,"v":0.54},{"s":0,"t":2.7,"v":0.56},{"s":0,"t":2.8,"v":0.58},{"s":0,"t":2.9,"v":0.595},{"s":0,"t":3,"v":0.61},{"s":0,"t":3.1,"v":0.63},{"s":0,"t":3.25,"v":0.65},{"s":0,"t":3.4,"v":0.67},{"s":0,"t":3.5,"v":0.68},{"s":0,"t":3.6,"v":0.695},{"s":0,"t":3.75,"v":0.71},{"s":0,"t":3.9,"v":0.73},{"s":0,"t":4,"v":0.75},{"s":0,"t":4.1,"v":0.765},{"s":0,"t":4.25,"v":0.78},{"s":0,"t":4.4,"v":0.8},{"s":0,"t":4.5,"v":0.82},{"s":0,"t":4.6,"v":0.84},{"s":0,"t":4.75,"v":0.86},{"s":0,"t":4.9,"v":0.87},{"s":0,"t":5,"v":0.88},{"s":0,"t":5.15,"v":0.89},{"s":0,"t":5.25,"v":0.9},{"s":0,"t":5.4,"v":0.915},{"s":0,"t":5.5,"v":0.93},{"s":0,"t":5.65,"v":0.94},{"s":0,"t":5.75,"v":0.95},{"s":0,"t":5.9,"v":0.955},{"s":0,"t":6,"v":0.96},{"s":0,"t":6.15,"v":0.97},{"s":0,"t":6.25,"v":0.98},{"s":0,"t":6.4,"v":0.985},{"s":0,"t":6.5,"v":0.99},{"s":0,"t":6.6,"v":1},{"s":0,"t":6.75,"v":1.01},{"s":0,"t":6.85,"v":1.05},{"s":0,"t":6.95,"v":1.12},{"s":0,"t":7,"v":1.25},{"s":0,"t":7.05,"v":1.18},{"s":0,"t":7.1,"v":1.08},{"s":0,"t":7.15,"v":1},{"s":0,"t":7.2,"v":0.96},{"s":0,"t":7.3,"v":0.92},{"s":0,"t":7.4,"v":0.86},{"s":0,"t":7.45,"v":0.82},{"s":0,"t":7.55,"v":0.79},{"s":0,"t":7.6,"v":0.77},{"s":0,"t":7.7,"v":0.75},{"s":0,"t":7.75,"v":0.73},{"s":0,"t":7.85,"v":0.71},{"s":0,"t":7.9,"v":0.7},{"s":0,"t":8,"v":0.68},{"s":0,"t":8.1,"v":0.66},{"s":0,"t":8.2,"v":0.64},{"s":0,"t":8.3,"v":0.62},{"s":0,"t":8.4,"v":0.6},{"s":0,"t":8.5,"v":0.59},{"s":0,"t":8.6,"v":0.575},{"s":0,"t":8.7,"v":0.56},{"s":0,"t":8.85,"v":0.83},{"s":0,"t":8.9,"v":0.54},{"s":0,"t":9,"v":0.51},{"s":0,"t":9.1,"v":0.48},{"s":0,"t":9.2,"v":0.46},{"s":0,"t":9.3,"v":0.44},{"s":0,"t":9.4,"v":0.425},{"s":0,"t":9.5,"v":0.41},{"s":0,"t":9.6,"v":0.4},{"s":0,"t":9.75,"v":0.39},{"s":0,"t":9.9,"v":0.38},{"s":0,"t":10,"v":0.37},{"s":0,"t":10.1,"v":0.36},{"s":0,"t":10.25,"v":0.35},{"s":0,"t":10.4,"v":0.345},{"s":0,"t":10.5,"v":0.34},{"s":0,"t":10.6,"v":0.33},{"s":0,"t":10.75,"v":0.32},{"s":0,"t":10.9,"v":0.315},{"s":0,"t":11,"v":0.31},{"s":0,"t":11.25,"v":0.3},{"s":0,"t":11.5,"v":0.29},{"s":0,"t":11.75,"v":0.285},{"s":0,"t":12,"v":0.28},{"s":0,"t":12.25,"v":0.275},{"s":0,"t":12.5,"v":0.27},{"s":0,"t":12.75,"v":0.26},{"s":0,"t":13,"v":0.255},{"s":0,"t":13.25,"v":0.252},{"s":0,"t":13.5,"v":0.25},{"s":0,"t":13.75,"v":0.25},{"s":0,"t":14,"v":0.25},{"s":0,"t":14.25,"v":0.247},{"s":0,"t":14.5,"v":0.245},{"s":0,"t":14.75,"v":0.247},{"s":0,"t":15,"v":0.25},{"s":0,"t":15.25,"v":0.252},{"s":0,"t":15.5,"v":0.255},{"s":0,"t":15.75,"v":0.258},{"s":0,"t":16,"v":0.26},{"s":0,"t":16.25,"v":0.262},{"s":0,"t":16.5,"v":0.265},{"s":0,"t":16.75,"v":0.268},{"s":0,"t":17,"v":0.27},{"s":0,"t":17.25,"v":0.27},{"s":0,"t":17.5,"v":0.27},{"s":0,"t":17.75,"v":0.268},{"s":0,"t":18,"v":0.265},{"s":0,"t":18.25,"v":0.265},{"s":0,"t":18.5,"v":0.265},{"s":0,"t":18.75,"v":0.262},{"s":0,"t":19,"v":0.26},{"s":0,"t":19.25,"v":0.258},{"s":0,"t":19.5,"v":0.255},{"s":0,"t":19.75,"v":0.252},{"s":0,"t":20,"v":0.25},
{"s":1,"t":0,"v":0},{"s":1,"t":0.2,"v":0.02},{"s":1,"t":0.4,"v":0.05},{"s":1,"t":0.55,"v":0.08},{"s":1,"t":0.7,"v":0.11},{"s":1,"t":0.85,"v":0.12},{"s":1,"t":1,"v":0.115},{"s":1,"t":1.2,"v":0.105},{"s":1,"t":1.4,"v":0.12},{"s":1,"t":1.55,"v":0.15},{"s":1,"t":1.7,"v":0.2},{"s":1,"t":1.85,"v":0.25},{"s":1,"t":2,"v":0.31},{"s":1,"t":2.1,"v":0.35},{"s":1,"t":2.2,"v":0.39},{"s":1,"t":2.3,"v":0.43},{"s":1,"t":2.4,"v":0.465},{"s":1,"t":2.5,"v":0.5},{"s":1,"t":2.6,"v":0.53},{"s":1,"t":2.7,"v":0.555},{"s":1,"t":2.8,"v":0.58},{"s":1,"t":2.9,"v":0.6},{"s":1,"t":3,"v":0.62},{"s":1,"t":3.1,"v":0.635},{"s":1,"t":3.25,"v":0.66},{"s":1,"t":3.4,"v":0.68},{"s":1,"t":3.5,"v":0.69},{"s":1,"t":3.6,"v":0.705},{"s":1,"t":3.75,"v":0.72},{"s":1,"t":3.9,"v":0.76},{"s":1,"t":4,"v":0.78},{"s":1,"t":4.1,"v":0.79},{"s":1,"t":4.25,"v":0.8},{"s":1,"t":4.4,"v":0.815},{"s":1,"t":4.5,"v":0.83},{"s":1,"t":4.6,"v":0.845},{"s":1,"t":4.75,"v":0.86},{"s":1,"t":4.9,"v":0.87},{"s":1,"t":5,"v":0.88},{"s":1,"t":5.15,"v":0.89},{"s":1,"t":5.25,"v":0.9},{"s":1,"t":5.4,"v":0.91},{"s":1,"t":5.5,"v":0.92},{"s":1,"t":5.65,"v":0.93},{"s":1,"t":5.75,"v":0.94},{"s":1,"t":5.9,"v":0.945},{"s":1,"t":6,"v":0.95},{"s":1,"t":6.15,"v":0.955},{"s":1,"t":6.25,"v":0.96},{"s":1,"t":6.4,"v":0.97},{"s":1,"t":6.5,"v":0.98},{"s":1,"t":6.6,"v":0.985},{"s":1,"t":6.75,"v":0.99},{"s":1,"t":6.9,"v":1.03},{"s":1,"t":7,"v":1.2},{"s":1,"t":7.05,"v":1.1},{"s":1,"t":7.1,"v":1.02},{"s":1,"t":7.15,"v":0.95},{"s":1,"t":7.2,"v":0.91},{"s":1,"t":7.3,"v":0.86},{"s":1,"t":7.4,"v":0.8},{"s":1,"t":7.45,"v":0.78},{"s":1,"t":7.55,"v":0.75},{"s":1,"t":7.6,"v":0.73},{"s":1,"t":7.7,"v":0.71},{"s":1,"t":7.75,"v":0.69},{"s":1,"t":7.85,"v":0.67},{"s":1,"t":7.9,"v":0.66},{"s":1,"t":8,"v":0.64},{"s":1,"t":8.1,"v":0.62},{"s":1,"t":8.2,"v":1.15},{"s":1,"t":8.25,"v":0.6},{"s":1,"t":8.3,"v":0.59},{"s":1,"t":8.4,"v":0.58},{"s":1,"t":8.5,"v":0.57},{"s":1,"t":8.6,"v":0.56},{"s":1,"t":8.7,"v":0.55},{"s":1,"t":8.8,"v":0.535},{"s":1,"t":8.9,"v":0.52},{"s":1,"t":9,"v":0.51},{"s":1,"t":9.1,"v":0.5},{"s":1,"t":9.2,"v":0.485},{"s":1,"t":9.3,"v":0.47},{"s":1,"t":9.4,"v":0.45},{"s":1,"t":9.5,"v":0.43},{"s":1,"t":9.6,"v":0.42},{"s":1,"t":9.75,"v":0.41},{"s":1,"t":9.9,"v":0.39},{"s":1,"t":10,"v":0.38},{"s":1,"t":10.1,"v":0.37},{"s":1,"t":10.25,"v":0.36},{"s":1,"t":10.4,"v":0.35},{"s":1,"t":10.5,"v":0.34},{"s":1,"t":10.6,"v":0.335},{"s":1,"t":10.75,"v":0.33},{"s":1,"t":10.9,"v":0.325},{"s":1,"t":11,"v":0.32},{"s":1,"t":11.25,"v":0.31},{"s":1,"t":11.5,"v":0.3},{"s":1,"t":11.75,"v":0.29},{"s":1,"t":12,"v":0.28},{"s":1,"t":12.1,"v":0.13},{"s":1,"t":12.25,"v":0.27},{"s":1,"t":12.5,"v":0.26},{"s":1,"t":12.75,"v":0.25},{"s":1,"t":13,"v":0.24},{"s":1,"t":13.25,"v":0.237},{"s":1,"t":13.5,"v":0.235},{"s":1,"t":13.75,"v":0.23},{"s":1,"t":14,"v":0.225},{"s":1,"t":14.25,"v":0.222},{"s":1,"t":14.5,"v":0.22},{"s":1,"t":14.75,"v":0.217},{"s":1,"t":15,"v":0.215},{"s":1,"t":15.25,"v":0.215},{"s":1,"t":15.5,"v":0.215},{"s":1,"t":15.75,"v":0.215},{"s":1,"t":16,"v":0.215},{"s":1,"t":16.25,"v":0.217},{"s":1,"t":16.5,"v":0.22},{"s":1,"t":16.75,"v":0.222},{"s":1,"t":17,"v":0.225},{"s":1,"t":17.25,"v":0.22},{"s":1,"t":17.5,"v":0.215},{"s":1,"t":17.75,"v":0.213},{"s":1,"t":18,"v":0.21},{"s":1,"t":18.25,"v":0.21},{"s":1,"t":18.5,"v":0.21},{"s":1,"t":18.75,"v":0.207},{"s":1,"t":19,"v":0.205},{"s":1,"t":19.25,"v":0.202},{"s":1,"t":19.5,"v":0.2},{"s":1,"t":19.75,"v":0.197},{"s":1,"t":20,"v":0.195}
],
"d":[
{"s":0,"t":0,"v":0},{"s":0,"t":0.2,"v":0.03},{"s":0,"t":0.4,"v":0.07},{"s":0,"t":0.6,"v":0.1},{"s":0,"t":0.8,"v":0.14},{"s":0,"t":1,"v":0.19},{"s":0,"t":1.2,"v":0.24},{"s":0,"t":1.35,"v":0.29},{"s":0,"t":1.5,"v":0.35},{"s":0,"t":1.65,"v":0.42},{"s":0,"t":1.8,"v":0.48},{"s":0,"t":1.95,"v":0.54},{"s":0,"t":2.1,"v":0.59},{"s":0,"t":2.25,"v":0.64},{"s":0,"t":2.4,"v":0.68},{"s":0,"t":2.6,"v":0.72},{"s":0,"t":2.8,"v":0.76},{"s":0,"t":3,"v":0.79},{"s":0,"t":3.2,"v":0.82},{"s":0,"t":3.4,"v":0.85},{"s":0,"t":3.6,"v":0.87},{"s":0,"t":3.8,"v":0.885},{"s":0,"t":4,"v":0.9},{"s":0,"t":4.25,"v":0.925},{"s":0,"t":4.5,"v":0.945},{"s":0,"t":4.75,"v":0.96},{"s":0,"t":5,"v":0.97},{"s":0,"t":5.25,"v":0.98},{"s":0,"t":5.5,"v":0.985},{"s":0,"t":5.75,"v":0.99},{"s":0,"t":5.9,"v":0.985},{"s":0,"t":6,"v":0.965},{"s":0,"t":6.1,"v":0.945},{"s":0,"t":6.2,"v":0.93},{"s":0,"t":6.3,"v":0.91},{"s":0,"t":6.45,"v":0.87},{"s":0,"t":6.6,"v":0.83},{"s":0,"t":6.75,"v":0.78},{"s":0,"t":6.9,"v":0.72},{"s":0,"t":7,"v":0.69},{"s":0,"t":7.2,"v":0.65},{"s":0,"t":7.4,"v":0.61},{"s":0,"t":7.6,"v":0.58},{"s":0,"t":7.8,"v":0.555},{"s":0,"t":8,"v":0.535},{"s":0,"t":8.25,"v":0.51},{"s":0,"t":8.5,"v":0.49},{"s":0,"t":8.75,"v":0.47},{"s":0,"t":9,"v":0.455},{"s":0,"t":9.25,"v":0.445},{"s":0,"t":9.5,"v":0.435},{"s":0,"t":9.75,"v":0.425},{"s":0,"t":10,"v":0.415},{"s":0,"t":10.25,"v":0.405},{"s":0,"t":10.5,"v":0.395},{"s":0,"t":10.75,"v":0.385},{"s":0,"t":11,"v":0.38},{"s":0,"t":11.25,"v":0.37},{"s":0,"t":11.5,"v":0.36},{"s":0,"t":11.75,"v":0.35},{"s":0,"t":12,"v":0.345},{"s":0,"t":12.25,"v":0.34},{"s":0,"t":12.5,"v":0.335},{"s":0,"t":12.75,"v":0.332},{"s":0,"t":13,"v":0.33},{"s":0,"t":13.25,"v":0.328},{"s":0,"t":13.5,"v":0.327},{"s":0,"t":13.75,"v":0.325},{"s":0,"t":14,"v":0.323},{"s":0,"t":14.25,"v":0.32},{"s":0,"t":14.5,"v":0.318},{"s":0,"t":14.8,"v":0.32},{"s":0,"t":15,"v":0.335},{"s":0,"t":15.2,"v":0.33},{"s":0,"t":15.5,"v":0.32},{"s":0,"t":15.75,"v":0.316},{"s":0,"t":16,"v":0.313},{"s":0,"t":16.25,"v":0.309},{"s":0,"t":16.5,"v":0.305},{"s":0,"t":16.75,"v":0.302},{"s":0,"t":17,"v":0.3},{"s":0,"t":17.25,"v":0.299},{"s":0,"t":17.5,"v":0.298},{"s":0,"t":17.75,"v":0.297},{"s":0,"t":18,"v":0.296},{"s":0,"t":18.25,"v":0.295},{"s":0,"t":18.5,"v":0.294},{"s":0,"t":18.75,"v":0.293},{"s":0,"t":19,"v":0.292},{"s":0,"t":19.25,"v":0.291},{"s":0,"t":19.5,"v":0.29},{"s":0,"t":19.75,"v":0.289},{"s":0,"t":20,"v":0.288},
{"s":1,"t":0,"v":0},{"s":1,"t":0.2,"v":0.01},{"s":1,"t":0.4,"v":0.025},{"s":1,"t":0.6,"v":0.045},{"s":1,"t":0.8,"v":0.07},{"s":1,"t":1,"v":0.11},{"s":1,"t":1.15,"v":0.17},{"s":1,"t":1.3,"v":0.23},{"s":1,"t":1.45,"v":0.3},{"s":1,"t":1.6,"v":0.38},{"s":1,"t":1.75,"v":0.46},{"s":1,"t":1.9,"v":0.52},{"s":1,"t":2.05,"v":0.58},{"s":1,"t":2.2,"v":0.63},{"s":1,"t":2.35,"v":0.68},{"s":1,"t":2.5,"v":0.72},{"s":1,"t":2.65,"v":0.76},{"s":1,"t":2.8,"v":0.8},{"s":1,"t":2.95,"v":0.83},{"s":1,"t":3.1,"v":0.86},{"s":1,"t":3.25,"v":0.89},{"s":1,"t":3.4,"v":0.91},{"s":1,"t":3.5,"v":0.925},{"s":1,"t":3.55,"v":0.88},{"s":1,"t":3.7,"v":0.89},{"s":1,"t":3.9,"v":0.91},{"s":1,"t":4.1,"v":0.925},{"s":1,"t":4.3,"v":0.94},{"s":1,"t":4.5,"v":0.95},{"s":1,"t":4.75,"v":0.965},{"s":1,"t":5,"v":0.975},{"s":1,"t":5.25,"v":0.985},{"s":1,"t":5.5,"v":0.995},{"s":1,"t":5.75,"v":0.995},{"s":1,"t":5.9,"v":0.99},{"s":1,"t":6,"v":0.97},{"s":1,"t":6.1,"v":0.95},{"s":1,"t":6.2,"v":0.925},{"s":1,"t":6.35,"v":0.88},{"s":1,"t":6.5,"v":0.83},{"s":1,"t":6.65,"v":0.77},{"s":1,"t":6.8,"v":0.72},{"s":1,"t":7,"v":0.66},{"s":1,"t":7.2,"v":0.62},{"s":1,"t":7.4,"v":0.585},{"s":1,"t":7.6,"v":0.56},{"s":1,"t":7.8,"v":0.535},{"s":1,"t":8,"v":0.515},{"s":1,"t":8.25,"v":0.49},{"s":1,"t":8.5,"v":0.47},{"s":1,"t":8.75,"v":0.455},{"s":1,"t":9,"v":0.44},{"s":1,"t":9.25,"v":0.425},{"s":1,"t":9.5,"v":0.41},{"s":1,"t":9.75,"v":0.395},{"s":1,"t":10,"v":0.38},{"s":1,"t":10.25,"v":0.37},{"s":1,"t":10.5,"v":0.36},{"s":1,"t":10.75,"v":0.355},{"s":1,"t":11,"v":0.35},{"s":1,"t":11.25,"v":0.34},{"s":1,"t":11.5,"v":0.33},{"s":1,"t":11.75,"v":0.315},{"s":1,"t":12,"v":0.305},{"s":1,"t":12.25,"v":0.3},{"s":1,"t":12.5,"v":0.297},{"s":1,"t":12.75,"v":0.295},{"s":1,"t":13,"v":0.294},{"s":1,"t":13.25,"v":0.293},{"s":1,"t":13.5,"v":0.292},{"s":1,"t":13.75,"v":0.291},{"s":1,"t":14,"v":0.29},{"s":1,"t":14.25,"v":0.288},{"s":1,"t":14.5,"v":0.287},{"s":1,"t":14.8,"v":0.29},{"s":1,"t":15,"v":0.3},{"s":1,"t":15.2,"v":0.295},{"s":1,"t":15.5,"v":0.285},{"s":1,"t":15.75,"v":0.28},{"s":1,"t":16,"v":0.275},{"s":1,"t":16.25,"v":0.272},{"s":1,"t":16.5,"v":0.27},{"s":1,"t":16.75,"v":0.267},{"s":1,"t":17,"v":0.265},{"s":1,"t":17.25,"v":0.263},{"s":1,"t":17.5,"v":0.262},{"s":1,"t":17.75,"v":0.26},{"s":1,"t":18,"v":0.258},{"s":1,"t":18.25,"v":0.257},{"s":1,"t":18.5,"v":0.255},{"s":1,"t":18.75,"v":0.252},{"s":1,"t":19,"v":0.25},{"s":1,"t":19.25,"v":0.249},{"s":1,"t":19.5,"v":0.248},{"s":1,"t":19.75,"v":0.246},{"s":1,"t":20,"v":0.245}
]
},
"spacing":38,
"bounds":"flush",
"vconcat":[
{
"width":710,"height":232,
"title":{"text":"A","dx":-30,"dy":19},
"layer":[
{"data":{"name":"a"},"mark":{"type":"circle","size":4,"opacity":1},
"encoding":{
"x":{"field":"t","type":"quantitative","scale":{"domain":[0,70],"nice":false},"axis":{"values":[0,10,20,30,40,50,60,70],"title":"Time / h","labelFontSize":12.5,"titleFontSize":12.5,"labelPadding":10,"titlePadding":6}},
"y":{"field":"v","type":"quantitative","scale":{"domain":[0,2],"nice":false},"axis":{"values":[0,0.5,1,1.5,2],"title":"Integrated intensity / A.U.","labelFontSize":12.5,"titleFontSize":14.5,"labelPadding":7,"titleX":-17,"titleY":128.5}},
"color":{"field":"p","type":"nominal","scale":{"domain":[1,2,3,4,5,6,7],"range":["#0a0aff","#4010d8","#7a10a0","#9a0a70","#c00a50","#e60a28","#ff0a0a"]},
"legend":{"orient":"none","legendX":639,"legendY":7,"title":null,"labelExpr":"['','pH\u00a0 8.6','pH\u00a0 8','pH\u00a0 7.4','pH\u00a0 7.1','pH\u00a0 6.8','pH\u00a0 6.5','pH\u00a0 6.2'][datum.value]","strokeColor":"#333333","fillColor":"white","padding":4,"symbolType":"circle","symbolSize":16,"symbolOffset":6,"labelFontSize":10.5,"rowPadding":2,"labelOffset":3}}
}},
{"layer":[
{"data":{"name":"ins"},"mark":{"type":"line","strokeWidth":0.7},
"encoding":{
"x":{"field":"x","type":"quantitative","scale":{"domain":[1.13,0.9],"range":[470,591],"nice":false,"zero":false},"axis":{"orient":"bottom","offset":-57,"values":[1.1,1.05,1,0.95,0.9],"title":"ppm","labelFontSize":8,"titleFontSize":8,"tickSize":-2,"labelPadding":4,"titlePadding":2,"labelFlush":false,"labelOverlap":false}},
"y":{"field":"y","type":"quantitative","scale":{"domain":[0,11],"range":[175,24],"nice":false,"zero":false},"axis":{"orient":"left","offset":-470,"values":[0,2,4,6,8,10],"title":"intensity","labelFontSize":8,"titleFontSize":8,"tickSize":-2,"labelPadding":4,"titlePadding":3}},
"color":{"field":"c","type":"quantitative","scale":{"domain":[0,4.375,13.125,21.875,30.625,35],"range":["#00008f","#0000ff","#00ffff","#ffff00","#ff0000","#800000"]},
"legend":{"orient":"none","legendX":599,"legendY":24,"direction":"vertical","gradientLength":152,"gradientThickness":7,"title":null,"values":[0,5,10,15,20,25,30,35],"labelFontSize":8,"gradientStrokeColor":"#555555","gradientStrokeWidth":0.5,"padding":0,"labelOffset":3}},
"detail":{"field":"c"}
}},
{"data":{"values":[{"x":1.13,"x2":0.9,"y":0,"y2":11}]},"mark":{"type":"rect","filled":false,"color":"#808080","strokeWidth":0.6},
"encoding":{"x":{"field":"x","type":"quantitative"},"x2":{"field":"x2"},"y":{"field":"y","type":"quantitative"},"y2":{"field":"y2"}}},
{"data":{"values":[{"x":1.13,"y":11,"s":"×10⁴"}]},"mark":{"type":"text","align":"left","baseline":"bottom","fontSize":7,"dy":-1,"color":"#333333"},
"encoding":{"x":{"field":"x","type":"quantitative"},"y":{"field":"y","type":"quantitative"},"text":{"field":"s"}}}
]}
],
"resolve":{"scale":{"x":"independent","y":"independent","color":"independent"},"axis":{"x":"independent","y":"independent"},"legend":{"color":"independent"}}
},
{"hconcat":[
{"width":214,"height":243,"title":{"text":"B","dx":-31,"dy":14},
"data":{"name":"b"},"mark":{"type":"circle","size":5,"opacity":1},
"encoding":{
"x":{"field":"t","type":"quantitative","scale":{"domain":[0,20],"nice":false},"axis":{"values":[0,5,10,15,20],"title":null,"labelFontSize":12.5,"labelPadding":12}},
"y":{"field":"v","type":"quantitative","scale":{"domain":[0,1.4],"nice":false},"axis":{"values":[0,0.5,1],"title":"Normalized intensity","titleFontSize":13,"labelFontSize":12.5,"labelPadding":6,"titlePadding":1}},
"color":{"field":"s","type":"nominal","scale":{"domain":[0,1],"range":["#0072BD","#D95319"]},"legend":null}
}},
{"width":213,"height":243,"title":{"text":"C","dx":-21,"dy":14},
"data":{"name":"c"},"mark":{"type":"circle","size":5,"opacity":1},
"encoding":{
"x":{"field":"t","type":"quantitative","scale":{"domain":[0,20],"nice":false},"axis":{"values":[0,5,10,15,20],"title":"Time (h)","titleFontSize":13,"labelFontSize":12.5,"labelPadding":12,"titlePadding":-4}},
"y":{"field":"v","type":"quantitative","scale":{"domain":[0,1.4],"nice":false},"axis":{"values":[0,0.5,1],"title":null,"labelFontSize":12.5,"labelPadding":6}},
"color":{"field":"s","type":"nominal","scale":{"domain":[0,1],"range":["#0072BD","#D95319"]},"legend":null}
}},
{"width":212,"height":243,"title":{"text":"D","dx":-24,"dy":14},
"data":{"name":"d"},
"layer":[
{"transform":[{"filter":"datum.s == 0"}],"mark":{"type":"line","strokeWidth":1.6,"color":"#0072BD"},
"encoding":{
"x":{"field":"t","type":"quantitative","scale":{"domain":[0,20],"nice":false},"axis":{"values":[0,5,10,15,20],"title":null,"labelFontSize":12.5,"labelPadding":12}},
"y":{"field":"v","type":"quantitative","scale":{"domain":[0,1.4],"nice":false},"axis":{"values":[0,0.5,1],"title":null,"labelFontSize":12.5,"labelPadding":6}}
}},
{"transform":[{"filter":"datum.s == 1"}],"mark":{"type":"line","strokeWidth":1.6,"color":"#D95319"},
"encoding":{
"x":{"field":"t","type":"quantitative"},
"y":{"field":"v","type":"quantitative"}
}},
{"mark":{"type":"circle","size":7,"opacity":1},
"encoding":{
"x":{"field":"t","type":"quantitative"},
"y":{"field":"v","type":"quantitative"},
"color":{"field":"s","type":"nominal","scale":{"domain":[0,1],"range":["#0072BD","#D95319"]},
"legend":{"orient":"none","legendX":147,"legendY":7,"title":null,"labelExpr":"datum.label == '0' ? 'ThT' : 'scatter'","strokeColor":"#444444","fillColor":"white","padding":3,"symbolType":"circle","symbolSize":20,"symbolOffset":3,"labelFontSize":12,"rowPadding":1,"labelOffset":4}}
}}
]}
],"spacing":35.5,"bounds":"flush","resolve":{"scale":{"color":"independent"},"legend":{"color":"independent"}}}
]
}
